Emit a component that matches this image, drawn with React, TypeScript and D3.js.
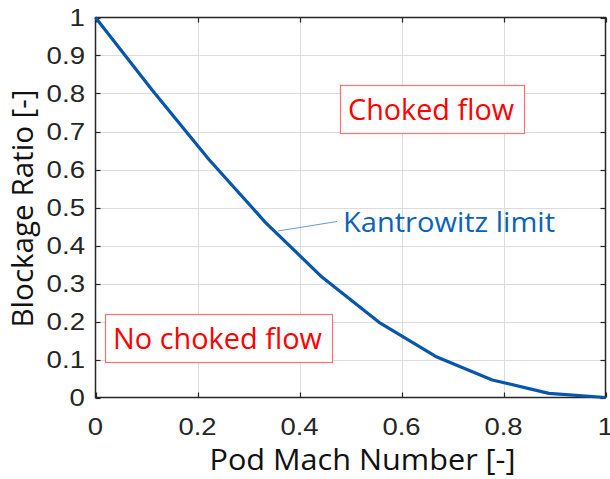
import React, { useEffect, useRef } from 'react';
import * as d3 from 'd3';

// Kantrowitz limit curve
const machNumbers = [0, 0.111, 0.222, 0.333, 0.444, 0.556, 0.667, 0.778, 0.889, 1];
const blockageRatio = [1, 0.809, 0.627, 0.461, 0.317, 0.198, 0.108, 0.046, 0.011, 0];

const xTicks = [0, 0.2, 0.4, 0.6, 0.8, 1];
const yTicks = [0, 0.1, 0.2, 0.3, 0.4, 0.5, 0.6, 0.7, 0.8, 0.9, 1];

const xLabel = 'Pod Mach Number [-]';
const yLabel = 'Blockage Ratio [-]';
const curveLabel = 'Kantrowitz limit';
const regionLabels = ['Choked flow', 'No choked flow'];

const W = 610;
const H = 479;

export default function App() {
  const ref = useRef<SVGSVGElement>(null);

  useEffect(() => {
    const svg = d3.select(ref.current);
    svg.selectAll('*').remove();

    const left = 95.5, right = 605.5, top = 17.5, bottom = 397.5;

    const x = d3.scaleLinear().domain([0, 1]).range([left, right]);
    const y = d3.scaleLinear().domain([0, 1]).range([bottom, top]);

    const fmt = (d: number) => (d === 0 || d === 1 ? String(d) : d.toFixed(1));

    // stretch text horizontally (the original figure is a bit wide)
    const stretch = (sel: any, k: number) => {
      sel.each(function (this: SVGTextElement) {
        const len = this.getComputedTextLength();
        d3.select(this).attr('textLength', len * k).attr('lengthAdjust', 'spacingAndGlyphs');
      });
    };

    svg.append('rect').attr('width', W).attr('height', H).attr('fill', '#fff');

    // grid
    const grid = svg.append('g').attr('stroke', '#dcdcdc').attr('stroke-width', 1);
    grid.selectAll('.gx')
      .data(xTicks.slice(1, -1))
      .enter().append('line')
      .attr('x1', d => Math.round(x(d)) + 0.5).attr('x2', d => Math.round(x(d)) + 0.5)
      .attr('y1', top).attr('y2', bottom);
    grid.selectAll('.gy')
      .data(yTicks.slice(1, -1))
      .enter().append('line')
      .attr('y1', d => Math.round(y(d)) + 0.5).attr('y2', d => Math.round(y(d)) + 0.5)
      .attr('x1', left).attr('x2', right);

    // ticks on all four sides, pointing inward
    const tickLen = 5;
    const ticks = svg.append('g').attr('stroke', '#262626').attr('stroke-width', 1.2);
    xTicks.forEach(d => {
      const px = Math.round(x(d)) + 0.5;
      ticks.append('line').attr('x1', px).attr('x2', px).attr('y1', bottom).attr('y2', bottom - tickLen);
      ticks.append('line').attr('x1', px).attr('x2', px).attr('y1', top).attr('y2', top + tickLen);
    });
    yTicks.forEach(d => {
      const py = Math.round(y(d)) + 0.5;
      ticks.append('line').attr('y1', py).attr('y2', py).attr('x1', left).attr('x2', left + tickLen);
      ticks.append('line').attr('y1', py).attr('y2', py).attr('x1', right).attr('x2', right - tickLen);
    });

    // axes box
    svg.append('rect')
      .attr('x', left).attr('y', top)
      .attr('width', right - left).attr('height', bottom - top)
      .attr('fill', 'none').attr('stroke', '#262626').attr('stroke-width', 1.5);

    // tick labels
    const tickFont = "'Liberation Sans', Arial, sans-serif";
    const xt = svg.append('g').selectAll('text')
      .data(xTicks)
      .enter().append('text')
      .attr('x', d => x(d)).attr('y', 435)
      .attr('text-anchor', 'middle')
      .attr('font-family', tickFont).attr('font-size', 24.5).attr('fill', '#262626')
      .text(d => fmt(d));
    stretch(xt, 1.12);

    const yt = svg.append('g').selectAll('text')
      .data(yTicks)
      .enter().append('text')
      .attr('x', 85).attr('y', d => y(d) + 8.5)
      .attr('text-anchor', 'end')
      .attr('font-family', tickFont).attr('font-size', 24).attr('fill', '#262626')
      .text(d => fmt(d));
    stretch(yt, 1.15);

    // axis labels
    const labelFont = "'Open Sans', 'Noto Sans', sans-serif";
    svg.append('text')
      .attr('x', 362.5).attr('y', 470)
      .attr('text-anchor', 'middle')
      .attr('font-family', labelFont).attr('font-size', 29).attr('fill', '#111')
      .attr('textLength', 306).attr('lengthAdjust', 'spacingAndGlyphs')
      .text(xLabel);
    svg.append('text')
      .attr('transform', `translate(33,${(top + bottom) / 2 + 1}) rotate(-90)`)
      .attr('text-anchor', 'middle')
      .attr('font-family', labelFont).attr('font-size', 29).attr('fill', '#111')
      .attr('textLength', 238).attr('lengthAdjust', 'spacingAndGlyphs')
      .text(yLabel);

    // curve
    const pts = machNumbers.map((m, i) => [m, blockageRatio[i]] as [number, number]);
    const line = d3.line<[number, number]>().x(d => x(d[0])).y(d => y(d[1]));
    svg.append('path')
      .datum(pts)
      .attr('d', line)
      .attr('fill', 'none')
      .attr('stroke', '#0756ab')
      .attr('stroke-width', 3.2)
      .attr('stroke-linejoin', 'round');

    // curve label with pointer
    svg.append('line')
      .attr('x1', 337).attr('y1', 221.5).attr('x2', 278).attr('y2', 231)
      .attr('stroke', '#6a9ad8').attr('stroke-width', 1);
    svg.append('text')
      .attr('x', 343).attr('y', 232)
      .attr('font-family', labelFont).attr('font-size', 28).attr('fill', '#0a62b8')
      .attr('textLength', 212).attr('lengthAdjust', 'spacingAndGlyphs')
      .text(curveLabel);

    // region labels in boxes
    const boxes = [
      { text: regionLabels[0], bx: 340, by: 85, bw: 184, bh: 48, tx: 348, ty: 120, tl: 166 },
      { text: regionLabels[1], bx: 105, by: 314, bw: 227, bh: 48, tx: 113, ty: 348.5, tl: 209 },
    ];
    boxes.forEach(b => {
      svg.append('rect')
        .attr('x', b.bx + 0.5).attr('y', b.by + 0.5)
        .attr('width', b.bw).attr('height', b.bh)
        .attr('fill', '#fff').attr('stroke', '#ff7070').attr('stroke-width', 1.2);
      svg.append('text')
        .attr('x', b.tx).attr('y', b.ty)
        .attr('font-family', labelFont).attr('font-size', 30).attr('fill', '#ff0000')
        .attr('textLength', b.tl).attr('lengthAdjust', 'spacingAndGlyphs')
        .text(b.text);
    });
  }, []);

  return (
    <svg ref={ref} width={W} height={H} style={{ display: 'block', position: 'absolute', left: 0, top: 0 }} />
  );
}
